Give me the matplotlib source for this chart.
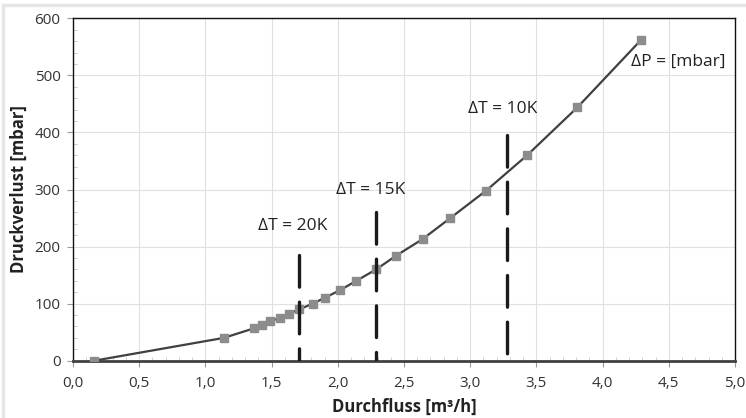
import matplotlib.pyplot as plt
from matplotlib.patches import Rectangle
from matplotlib.ticker import MultipleLocator, FuncFormatter

plt.rcParams['font.family'] = ['Open Sans', 'DejaVu Sans']

# Durchfluss [m3/h] / Druckverlust [mbar]
flow = [0.16, 1.14, 1.37, 1.43, 1.49, 1.56, 1.63, 1.71, 1.81, 1.90, 2.02,
        2.14, 2.29, 2.44, 2.64, 2.85, 3.12, 3.43, 3.81, 4.29]
dp = [0, 40, 57, 62, 69, 75, 82, 90, 100, 110, 124,
      140, 160, 184, 213, 250, 298, 360, 444, 562]

# Delta-T markers: position, top of dashed line, label
dt_x = [1.71, 2.29, 3.28]
dt_top = [185, 261, 396]
dt_labels = ['ΔT = 20K', 'ΔT = 15K', 'ΔT = 10K']
dt_label_pos = [(1.395, 236), (1.99, 299), (2.987, 441)]

fig = plt.figure(figsize=(7.46, 4.18), dpi=100)
fig.patches.append(Rectangle((0.004, -0.05), 1.2, 1.038, transform=fig.transFigure,
                             fill=False, edgecolor='#e6e6e6', linewidth=2.5))
ax = fig.add_axes([73 / 746, 1 - 360.7 / 418, 662 / 746, 342.4 / 418])

ax.plot(flow, dp, color='#404040', linewidth=1.6, marker='s', markersize=5.5,
        markerfacecolor='#8c8c8c', markeredgecolor='#8c8c8c', zorder=3)

for x, top in zip(dt_x, dt_top):
    ax.plot([x, x], [top, 0], color='#1a1a1a', linewidth=2.4,
            dashes=(9.5, 4.5), solid_capstyle='round', dash_capstyle='round', zorder=4)

for txt, (tx, ty) in zip(dt_labels, dt_label_pos):
    ax.text(tx, ty, txt, fontsize=12.5, color='#222222', va='center', ha='left')
ax.text(4.216, 524, 'ΔP = [mbar]', fontsize=12.5, color='#222222', va='center', ha='left')

ax.set_xlim(0, 5)
ax.set_ylim(0, 600)
ax.xaxis.set_major_locator(MultipleLocator(0.5))
ax.xaxis.set_minor_locator(MultipleLocator(0.1))
ax.yaxis.set_major_locator(MultipleLocator(100))
ax.yaxis.set_minor_locator(MultipleLocator(20))
ax.xaxis.set_major_formatter(FuncFormatter(lambda v, p: f'{v:.1f}'.replace('.', ',')))

ax.grid(True, which='major', color='#e0e0e0', linewidth=0.8)
ax.set_axisbelow(True)

ax.tick_params(axis='both', which='major', labelsize=11, labelcolor='#333333',
               color='#999999', length=4, direction='out')
ax.tick_params(axis='both', which='minor', color='#c8c8c8', length=3, direction='in')
ax.tick_params(axis='x', which='major', pad=7)
ax.tick_params(axis='y', which='major', pad=5)

for side in ['left', 'top', 'right']:
    ax.spines[side].set_color('#111111')
    ax.spines[side].set_linewidth(1.0)
ax.spines['bottom'].set_color('#404040')
ax.spines['bottom'].set_linewidth(2.0)

ax.set_xlabel('Durchfluss [m³/h]', fontsize=12, fontweight='bold', color='#222222', labelpad=5)
ax.set_ylabel('Druckverlust [mbar]', fontsize=12, fontweight='bold', color='#222222', labelpad=5)

fig.savefig('out.png', dpi=100)
